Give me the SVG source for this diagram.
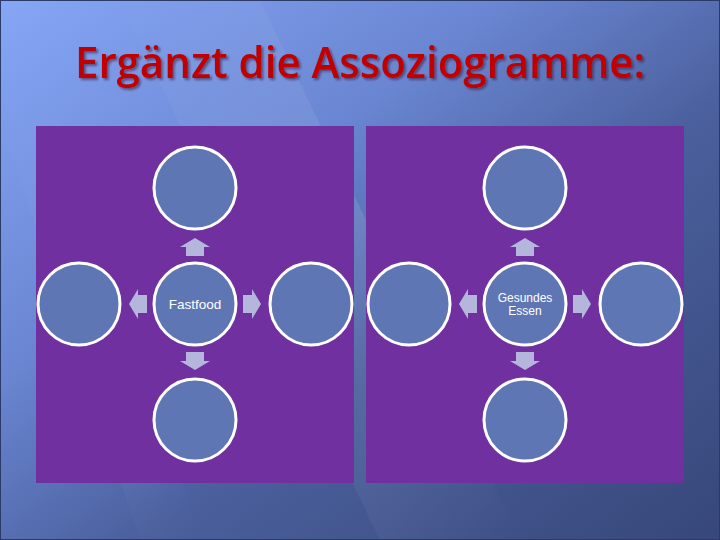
<svg xmlns="http://www.w3.org/2000/svg" width="720" height="540" viewBox="0 0 720 540">
<defs>
<linearGradient id="bg" x1="0" y1="0" x2="1" y2="1">
<stop offset="0" stop-color="#86a6f6"/>
<stop offset="0.35" stop-color="#6a86d2"/>
<stop offset="0.6" stop-color="#4a5f9c"/>
<stop offset="1" stop-color="#37477a"/>
</linearGradient>
<linearGradient id="streak" x1="0" y1="0" x2="1" y2="1">
<stop offset="0" stop-color="#ffffff" stop-opacity="0"/>
<stop offset="0.5" stop-color="#ffffff" stop-opacity="0.1"/>
<stop offset="1" stop-color="#ffffff" stop-opacity="0"/>
</linearGradient>
<filter id="sh" x="-5%" y="-20%" width="110%" height="140%">
<feDropShadow dx="2" dy="2" stdDeviation="1" flood-color="#3a1030" flood-opacity="0.55"/>
</filter>
<path id="arrowUp" d="M0,-16 L15,-7 L9,-7 L9,2 L-9,2 L-9,-7 L-15,-7 Z"/>
</defs>
<style>
.panel{fill:#7030a0}
.node{fill:#5f76b4;stroke:#ffffff;stroke-width:3}
.arr{fill:#b4b6dc}
.lbl{font-family:"Liberation Sans",Arial,sans-serif;font-size:12px;fill:#ffffff;text-anchor:middle}
.title{font-family:"Open Sans","DejaVu Sans",sans-serif;font-size:43px;font-weight:600;fill:#c00000}
</style>
<rect x="0" y="0" width="720" height="540" fill="url(#bg)"/>
<polygon points="120,0 260,0 520,540 380,540" fill="url(#streak)"/>
<polygon points="0,120 60,120 200,540 140,540" fill="url(#streak)" opacity="0.5"/>
<rect x="0.5" y="0.5" width="719" height="539" fill="none" stroke="#2c3a68" stroke-width="1"/>
<g id="title">
<text class="title" x="75" y="78" textLength="570" lengthAdjust="spacingAndGlyphs" filter="url(#sh)">Ergänzt die Assoziogramme:</text>
</g>
<rect class="panel" x="36" y="126" width="318" height="357"/>
<rect class="panel" x="366" y="126" width="318" height="357"/>
<g id="connectors">
<use href="#arrowUp" class="arr" transform="translate(195,254)"/>
<use href="#arrowUp" class="arr" transform="translate(195,354) rotate(180)"/>
<use href="#arrowUp" class="arr" transform="translate(145,304) rotate(-90)"/>
<use href="#arrowUp" class="arr" transform="translate(245,304) rotate(90)"/>
<use href="#arrowUp" class="arr" transform="translate(525,254)"/>
<use href="#arrowUp" class="arr" transform="translate(525,354) rotate(180)"/>
<use href="#arrowUp" class="arr" transform="translate(475,304) rotate(-90)"/>
<use href="#arrowUp" class="arr" transform="translate(575,304) rotate(90)"/>
</g>
<g id="fastfood"><ellipse class="node" cx="195" cy="304" rx="41" ry="41"/><text class="lbl" x="195" y="308.5" style="font-size:13.5px">Fastfood</text></g>
<g id="ff-top"><ellipse class="node" cx="195" cy="188" rx="41" ry="41"/></g>
<g id="ff-bottom"><ellipse class="node" cx="195" cy="420" rx="41" ry="41"/></g>
<g id="ff-left"><ellipse class="node" cx="79" cy="304" rx="41" ry="41"/></g>
<g id="ff-right"><ellipse class="node" cx="311" cy="304" rx="41" ry="41"/></g>
<g id="gesund"><ellipse class="node" cx="525" cy="304" rx="41" ry="41"/><text class="lbl" x="525" y="302">Gesundes</text><text class="lbl" x="525" y="315">Essen</text></g>
<g id="ge-top"><ellipse class="node" cx="525" cy="188" rx="41" ry="41"/></g>
<g id="ge-bottom"><ellipse class="node" cx="525" cy="420" rx="41" ry="41"/></g>
<g id="ge-left"><ellipse class="node" cx="409" cy="304" rx="41" ry="41"/></g>
<g id="ge-right"><ellipse class="node" cx="641" cy="304" rx="41" ry="41"/></g>
</svg>
